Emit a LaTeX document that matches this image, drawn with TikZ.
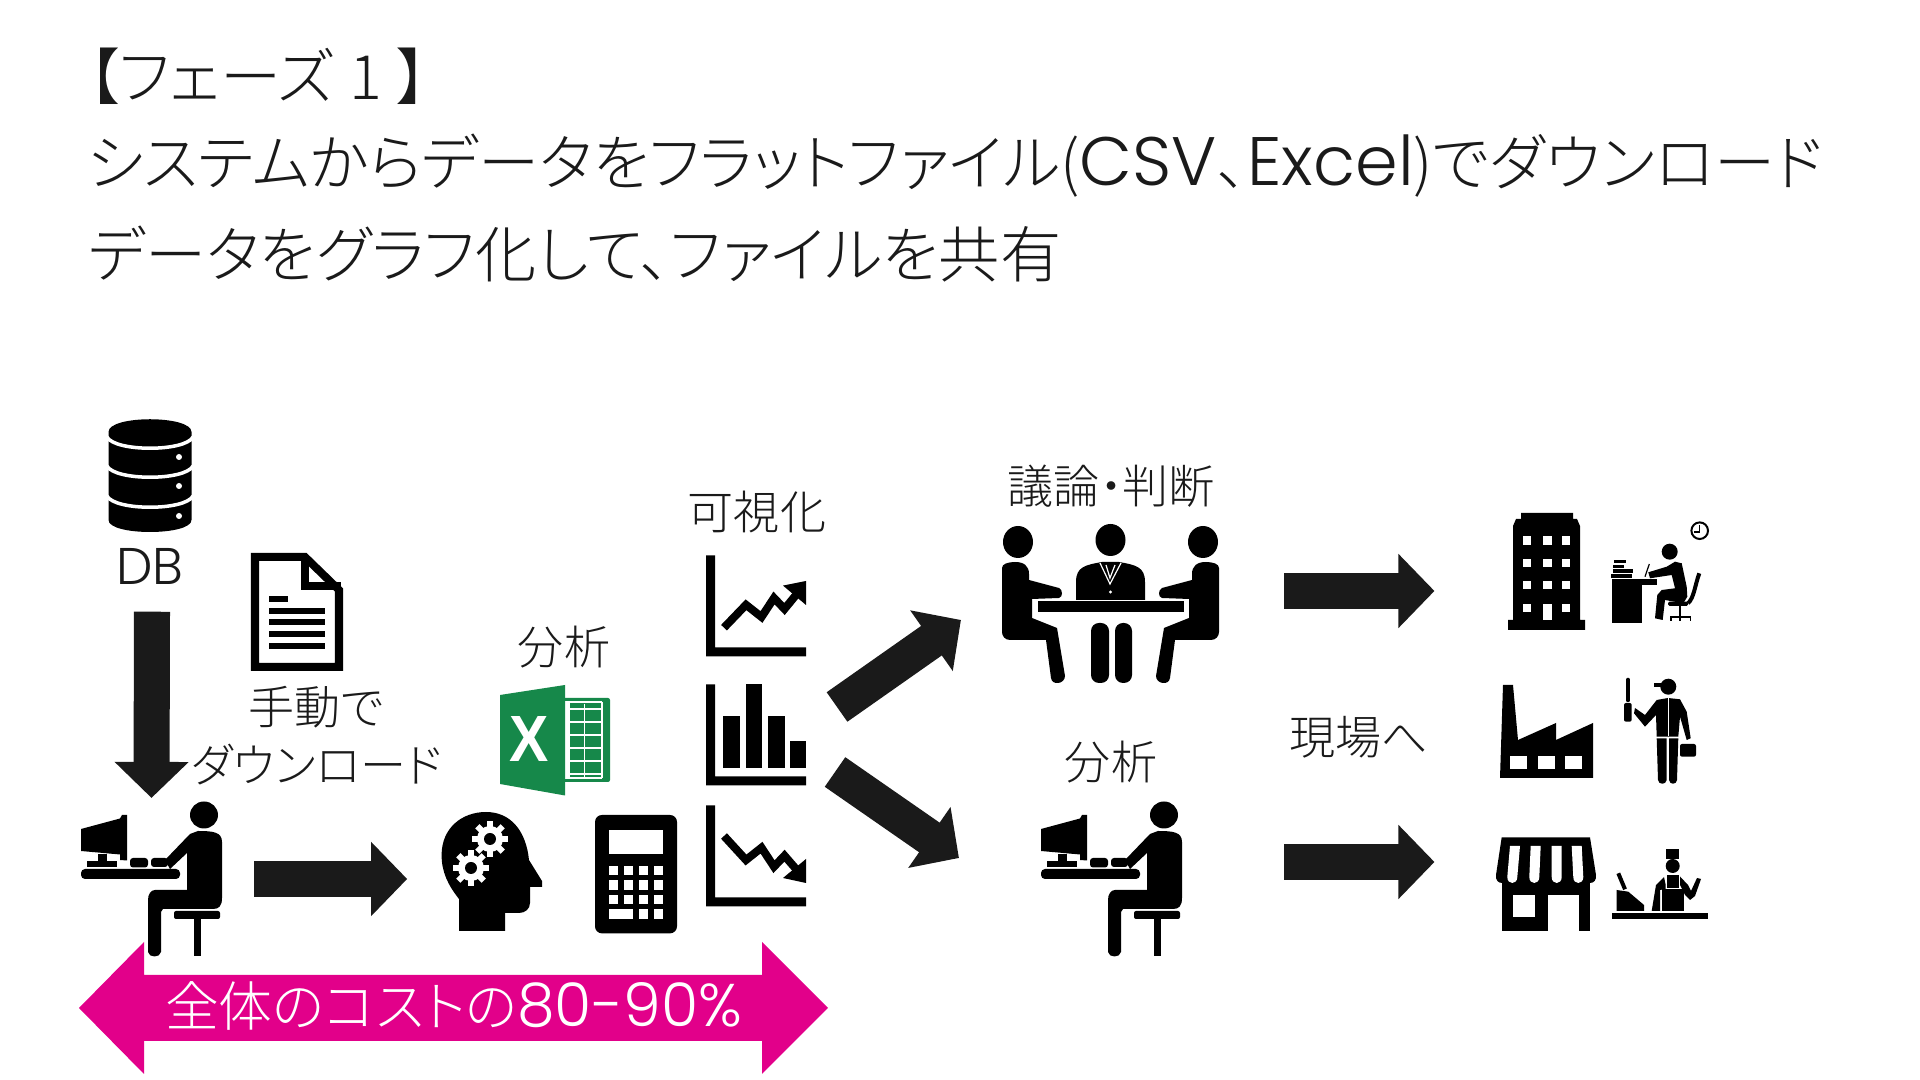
\documentclass[tikz,border=0pt]{standalone}
\usepackage{fontspec}
\setmainfont{Noto Sans CJK JP}[UprightFont=* Light,RawFeature=+palt]
\newfontfamily\latinfont{Poppins}[UprightFont=* Light,Scale=1.12]
\newfontfamily\boldfont{Liberation Sans}[UprightFont=* Bold]
\usepackage{xcolor}
\usetikzlibrary{calc,arrows.meta}

\definecolor{inkgray}{HTML}{1A1A1A}
\definecolor{costpink}{HTML}{E2008A}
\definecolor{excelgreen}{HTML}{16884A}

\tikzset{
    titleline/.style={anchor=west,inner sep=0pt,text=inkgray,font=\fontsize{17.4}{20}\selectfont},
    rotulo/.style={inner sep=0pt,text=inkgray,font=\fontsize{13.1}{16}\selectfont},
    iconbox/.style={inner sep=0pt,outer sep=0pt},
    blockarrow/.style={draw=inkgray,line width=0.36cm,-{Triangle[length=0.36cm,width=0.72cm,fill=inkgray]}},
    pics/deskworker/.style={code={
        \fill (123,13) ellipse [x radius=14,y radius=13.5];
        \fill (117,29) .. controls (132,29) and (141,30) .. (141,40) -- (141,96)
            .. controls (141,104) and (138,107) .. (132,107) -- (82,107) -- (80,110) -- (80,150)
            .. controls (79,156) and (68,156) .. (67,150) -- (67,98)
            .. controls (67,92) and (70,88) .. (74,88) -- (106,88) -- (106,51) -- (89,67) -- (84,58) -- (109,32) -- cycle;
        \fill[rounded corners=0.02cm] (93,109) rectangle (139,117);
        \fill (113,117) rectangle (120,154);
        \fill[rounded corners=0.04cm] (0,67) rectangle (99,77);
        \fill[rounded corners=0.03cm] (49,56) rectangle (67,65.5);
        \fill[rounded corners=0.03cm] (70,56) rectangle (87,65);
        \fill (5.5,59) rectangle (36,65.5);
        \fill (17,52) rectangle (26,59);
        \fill (0,27) -- (39,16.5) -- (41,13) -- (46,13) -- (46,58.5) -- (39,58) -- (39,52.5) -- (0,49) -- cycle;
    }},
    pics/gear/.style={code={
        \fill[white] (0,0) circle (13);
        \foreach \a in {0,45,...,315}
            \fill[white,rotate=\a] (-3,0) rectangle (3,18);
        \fill (0,0) circle (6);
    }},
    pics/chartaxes/.style={code={
        \fill (0,0) -- (9,0) -- (9,92) -- (100,92) -- (100,101) -- (0,101) -- cycle;
    }},
    pics/seated/.style={code={
        \fill (16,16) ellipse [x radius=15,y radius=16];
        \fill (0,42) .. controls (0,38) and (6,36) .. (13,36) .. controls (22,36) and (27,40) .. (27,48) -- (27,54)
            -- (57,62) .. controls (61,64) and (61,71) .. (57,72) -- (30,73) -- (30,92) -- (55,102) -- (63,150)
            .. controls (63,158) and (50,160) .. (49,152) -- (44,114) -- (8,114)
            .. controls (3,114) and (0,110) .. (0,106) -- cycle;
    }}
}

\begin{document}
\begin{tikzpicture}[x=0.01cm,y=-0.01cm]
\useasboundingbox (0,0) rectangle (1920,1080);

%------------------------------------------------
% Title
%------------------------------------------------
\node[titleline] (line1) at (88,76) {【フェーズ\hspace{0.15cm}1\hspace{0.15cm}】};
\node[titleline] (line2) at (86,166) {システムからデータをフラットファイル({\latinfont CSV}、{\latinfont Excel})でダウンロード};
\node[titleline] (line3) at (88,254) {データをグラフ化して、ファイルを共有};

%------------------------------------------------
% Labels
%------------------------------------------------
\foreach \x/\y/\nome/\txt in {
150/566/dblabel/{\latinfont DB},
316/707/manual/{手動で},
317/765/download/{ダウンロード},
564/647/excellabel/{分析},
757/512/vizlabel/{可視化},
1111/486/meetinglabel/{議論・判断},
1111/762/analystlabel/{分析},
1359/737/fieldlabel/{現場へ}}
{
    \node[rotulo] (\nome) at (\x,\y) {\txt};
}

%------------------------------------------------
% Icon boxes
%------------------------------------------------
\foreach \x/\y/\w/\h/\nome in {
151.5/879/1.41/1.54/pcuser,
491.8/871.5/1.00/1.19/brain,
756/734.5/1.00/1.00/chartbars,
1110.5/604.5/2.17/1.57/meeting,
1111.5/879/1.41/1.54/analyst,
1546.5/571.5/0.77/1.17/office,
1546/884.5/0.98/0.93/shop}
{
    \node[iconbox,minimum width=\w cm,minimum height=\h cm] (\nome) at (\x,\y) {};
}

%------------------------------------------------
% DB
%------------------------------------------------
\fill (108.5,432) .. controls (108.5,415) and (191.5,415) .. (191.5,432) -- (191.5,520)
    .. controls (191.5,536) and (108.5,536) .. (108.5,520) -- cycle;
\foreach \y in {437,466,496}
{
    \draw[white,line width=0.035cm] (107,\y) .. controls (115,\y+15) and (185,\y+15) .. (193,\y);
    \fill[white] (179,\y+20) circle (3);
}

%------------------------------------------------
% Document
%------------------------------------------------
\draw[line width=0.08cm,miter limit=4] (255,557) -- (305,557) -- (339,590) -- (339,667) -- (255,667) -- cycle;
\draw[line width=0.08cm] (305,555) -- (305,586) -- (341,586);
\fill (269,596) rectangle (288,602);
\foreach \y in {611,622.5,634,646}
{
    \fill (269,\y-3) rectangle (325,\y+3);
}

%------------------------------------------------
% People at a computer
%------------------------------------------------
\pic at (81,802) {deskworker};
\pic at (1041,802) {deskworker};

%------------------------------------------------
% Head with gears
%------------------------------------------------
\fill (459,931) -- (459,899) .. controls (448,885) and (441.6,872) .. (441.6,855)
    .. controls (441.6,828) and (462,812) .. (486,812) .. controls (510,812) and (526,830) .. (529,860)
    -- (542,881) -- (542,887) -- (530,887) -- (530,903) .. controls (530,909) and (525,913) .. (519,913)
    -- (505,913) -- (505,931) -- cycle;
\pic at (490,839) {gear};
\pic at (471,868) {gear};

%------------------------------------------------
% Calculator
%------------------------------------------------
\fill[rounded corners=0.07cm] (595,815) rectangle (677,933.4);
\fill[white] (609,830) rectangle (663,854);
\foreach \y in {866,880.5,895,909.5}
{
    \foreach \x in {624,639,654}
    {
        \fill[white] (\x,\y) rectangle (\x+9,\y+9.5);
    }
    \fill[white] (609,\y) rectangle (618,\y+9.5);
}
\fill[white] (618,909.5) rectangle (633,919);

%------------------------------------------------
% Excel
%------------------------------------------------
\fill[excelgreen,rounded corners=0.02cm] (560,698) rectangle (610,782);
\foreach \y in {709,722,735,748,761,774}
{
    \draw[white,line width=0.015cm] (565,\y) -- (602,\y);
}
\fill[white] (565,702) rectangle (570,778);
\draw[white,line width=0.015cm] (584.5,704) -- (584.5,778);
\draw[white,line width=0.015cm] (602,702) -- (602,778);
\draw[white,line width=0.015cm] (565,702) -- (602,702);
\draw[white,line width=0.015cm] (565,778) -- (602,778);
\fill[excelgreen] (500,695) -- (565,685) -- (565,795.5) -- (500,784) -- cycle;
\node[inner sep=0pt,text=white,xscale=0.9,font=\boldfont\fontsize{18.6}{20}\selectfont] (excelx) at (529,739) {X};

%------------------------------------------------
% Charts
%------------------------------------------------
\pic at (706,555.5) {chartaxes};
\pic at (706,684.5) {chartaxes};
\pic at (706,805.5) {chartaxes};

% rising
\draw[line width=0.08cm] (724,627.7) -- (746,604.8) -- (761.5,617) -- (774,598) -- (784.5,609) -- (796,595);
\fill (783,585.6) -- (806,581) -- (806,605) -- cycle;

% bars
\fill (723,715.7) rectangle (740,767.7);
\fill (746,684.5) rectangle (762,767.7);
\fill (768,715.7) rectangle (784.5,767.7);
\fill (790,741) rectangle (806,767.7);

% falling
\draw[line width=0.08cm] (724,836) -- (746,860) -- (761.5,847.7) -- (774,866.7) -- (784.5,855.7) -- (796,869);
\fill (783,878) -- (806,883) -- (806,859) -- cycle;

%------------------------------------------------
% Meeting
%------------------------------------------------
\pic at (1002,526) {seated};
\pic[xscale=-1] at (1219,526) {seated};
\fill (1110.5,540) ellipse [x radius=15,y radius=16];
\fill (1076,600) -- (1076,582) .. controls (1076,567) and (1085,565) .. (1102,562) -- (1119,562)
    .. controls (1136,565) and (1145,567) .. (1145,582) -- (1145,600) -- cycle;
\draw[white,line width=0.012cm] (1100,563) -- (1110,584) -- (1121,563);
\draw[white,line width=0.012cm] (1106,565) -- (1110,578) -- (1115,565);
\fill[white] (1110.5,592) circle (1.7);
\fill (1038,601) rectangle (1184,612);
\fill[rounded corners=0.08cm] (1091,623) rectangle (1109,683);
\fill[rounded corners=0.08cm] (1115,623) rectangle (1132,683);

%------------------------------------------------
% Office
%------------------------------------------------
\fill (1508,630) -- (1508,620) -- (1513,620) -- (1513,526) -- (1516,519) -- (1521,519) -- (1521,513)
    -- (1573,513) -- (1573,519) -- (1577,519) -- (1580,526) -- (1580,620) -- (1585,620) -- (1585,630) -- cycle;
\foreach \y in {536.5,559,581,604}
{
    \foreach \x in {1522.5,1543,1561.5}
    {
        \fill[white] (\x,\y) rectangle (\x+8.5,\y+8.5);
    }
}
\fill[white] (1543,604) rectangle (1551.5,620);

\draw[line width=0.02cm] (1699.7,530.7) circle (8.3);
\draw[line width=0.012cm] (1699.7,525) -- (1699.7,532) -- (1694,532);
\fill (1669.7,551.7) circle (8);
\fill (1648.3,572.3) -- (1666.7,566.7) -- (1675,561.7) -- (1681.7,563.3) -- (1686.7,586.7) -- (1687.3,596.7)
    -- (1683.3,603.3) -- (1665,600) -- (1662.7,620) -- (1655,618.3) -- (1657.3,595) -- (1661.7,590)
    -- (1675,588.3) -- (1671.7,575) -- (1650,578.3) -- cycle;
\fill (1611.7,579.3) rectangle (1657.3,584.7);
\fill (1611.7,584) rectangle (1641.7,622.7);
\foreach \xa/\ya/\xb/\yb in {1614/560/1626/563.3,1612.7/565/1624/568.3,1612.7/569.3/1633.3/573.3,1611/574/1631.7/578.3}
{
    \fill (\xa,\ya) rectangle (\xb,\yb);
}
\draw[line width=0.012cm] (1645,576.7) -- (1649.3,564);
\draw[line width=0.04cm] (1699.3,573.3) .. controls (1695,585) and (1694,598) .. (1688,603.3);
\fill[rounded corners=0.015cm] (1668,601.7) rectangle (1688,606);
\fill (1679,606) rectangle (1681,617);
\draw[line width=0.012cm] (1671,621) -- (1671,617) -- (1690.7,617) -- (1690.7,621);
\draw[line width=0.012cm] (1680,617) -- (1680,621);

%------------------------------------------------
% Factory
%------------------------------------------------
\fill (1500,778) -- (1503,685) -- (1513,685) -- (1518,740) -- (1556,723) -- (1556,740) -- (1593,723) -- (1593,778) -- cycle;
\foreach \x in {1510,1537.5,1565}
{
    \fill[white] (\x,756.5) rectangle (\x+17,769);
}

\fill (1668.3,686.7) circle (8);
\fill (1654.3,682.7) rectangle (1663,686.7);
\fill[rounded corners=0.01cm] (1626,678) rectangle (1629.8,702);
\fill[rounded corners=0.02cm] (1624,703) rectangle (1631.7,721.7);
\fill (1635,708) -- (1645,715) -- (1656.7,700) -- (1668,698) -- (1680,699.3) -- (1686.7,711.7) -- (1690.7,738.3)
    -- (1686.7,740) -- (1680,716.7) -- (1678.3,736.7) -- (1656.7,736.7) -- (1656,715) -- (1645,726.7) -- (1634,713.3) -- cycle;
\draw[white,line width=0.008cm] (1668.3,698) -- (1668.3,736);
\fill (1656.7,738.3) -- (1666.7,738.3) -- (1666.7,780) .. controls (1666,785) and (1658.5,785) .. (1658,780) -- cycle;
\fill (1669,738.3) -- (1678.3,738.3) -- (1677,780) .. controls (1676.5,785) and (1669.5,785) .. (1669,780) -- cycle;
\fill[rounded corners=0.02cm] (1680,744) rectangle (1696,756.7);

%------------------------------------------------
% Shop
%------------------------------------------------
\fill (1501.7,837.3) -- (1590,837.3) -- (1596,875) .. controls (1596.5,880) and (1594,883) .. (1590,883)
    -- (1502,883) .. controls (1498,883) and (1495.5,880) .. (1496,875) -- cycle;
\fill (1501.7,883) rectangle (1590,930.7);
\fill[white] (1512.7,895) rectangle (1535,917.3);
\fill[white] (1548,895) rectangle (1579,930.7);
\foreach \xa/\xb in {1510/1507.3,1530.7/1529.3,1551.7/1551.7,1571.7/1573.3}
{
    \fill[white] (\xa,846) -- (\xa+10,846) -- (\xb+10,877) .. controls (\xb+10,885) and (\xb,885) .. (\xb,877) -- cycle;
}

\fill (1611.7,913.3) rectangle (1708,919.3);
\fill (1616.7,890) -- (1628.3,891.7) -- (1644,905) -- (1644,911) -- (1616.7,911) -- cycle;
\draw[line width=0.04cm] (1618.3,873.3) -- (1625,889.3);
\fill (1666,849) rectangle (1679.3,859.3);
\fill (1672.7,866) circle (7);
\fill (1664,877) -- (1665.5,884) -- (1665.5,889) -- (1660,890) -- (1660,911) -- (1651.7,911) -- (1656,885) -- cycle;
\fill (1667,875) rectangle (1678.5,888);
\fill (1661.7,889) rectangle (1684,911);
\fill (1680,876.5) -- (1688,885) -- (1691,891) -- (1697,878) -- (1701,879) -- (1695,896) -- (1690,900) -- (1685,895) -- (1680,885) -- cycle;

%------------------------------------------------
% Arrows
%------------------------------------------------
\draw[blockarrow] ($(dblabel.south)+(2,27)$) -- ($(pcuser.north)+(0,-4)$);
\draw[blockarrow] ($(pcuser.east)+(32,0)$) -- ($(brain.west)+(-34.6,7.5)$);
\draw[blockarrow] ($(chartbars.east)+(31,-27.5)$) -- ($(meeting.west)+(-41,15.5)$);
\draw[blockarrow] ($(chartbars.east)+(29,37.5)$) -- ($(analyst.west)+(-82,-21)$);
\draw[blockarrow] ($(meeting.east)+(65,-13.5)$) -- ($(office.west)+(-73.5,19.5)$);
\draw[blockarrow] ($(analyst.east)+(102,-17)$) -- ($(shop.west)+(-62.5,-22.5)$);

%------------------------------------------------
% Cost
%------------------------------------------------
\fill[costpink] (79,1008) -- (144,942) -- (144,975) -- (762,975) -- (762,942) -- (828,1008)
    -- (762,1074) -- (762,1041) -- (144,1041) -- (144,1074) -- cycle;
\node[inner sep=0pt,text=white,font=\fontsize{15.3}{16}\selectfont] (cost) at (453.5,1006)
    {全体のコストの{\latinfont 80-90\%}};

\end{tikzpicture}
\end{document}
